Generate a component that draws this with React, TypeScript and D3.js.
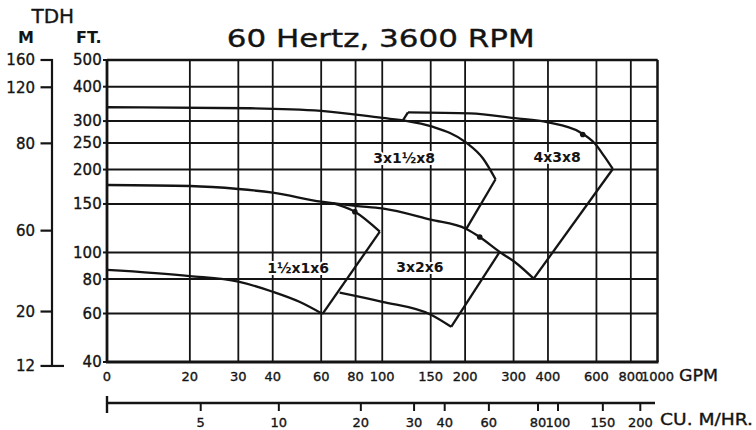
import React from "react";
import * as d3 from "d3";

// ---- Axis data ----
const gpmTicks = [10, 20, 30, 40, 60, 80, 100, 150, 200, 300, 400, 600, 800, 1000];
const gpmTickLabels = ["0", "20", "30", "40", "60", "80", "100", "150", "200", "300", "400", "600", "800", "1000"];
const ftTicks = [500, 400, 300, 250, 200, 150, 100, 80, 60, 40];
// metre scale as printed on the original (positions expressed as the ft level they sit at)
const mTickLabels = ["160", "120", "80", "60", "20", "12"];
const mTickFt = [500, 398, 249, 120, 61, 38.7];
// cubic metres per hour scale (positions expressed as the GPM they sit at)
const cuTickLabels = ["5", "10", "20", "30", "40", "60", "80", "100", "150", "200"];
const cuTickGpm = [21.9, 42.1, 83.6, 130.5, 168.6, 244, 368, 435, 633, 866];

// ---- Pump curve data: [GPM, ft] ----
const sharedCurve: [number, number][] = [
  [10, 175.8], [20, 174.3], [30, 170], [40, 164.8], [60, 153], [66, 151], [80, 147.5],
  [100, 144.5], [150, 131.5], [202, 121.7], [226, 113.8], [267, 100.4], [303, 92.3], [355, 80.3],
];
const branch1x6: [number, number][] = [[66, 151], [79.5, 140.6], [98, 119]];
const lower1x6: [number, number][] = [[10, 86.4], [20, 82.1], [30, 78.3], [40, 72], [50, 66.2], [60.7, 59.8]];
const end1x6: [number, number][] = [[98, 119], [60.7, 59.8]];
const lower2x6: [number, number][] = [[70, 71.5], [100, 66.2], [151, 59.3], [178, 53.7]];
const end2x6: [number, number][] = [[178, 53.7], [267, 100.4]];
const upper3x8: [number, number][] = [
  [10, 336.8], [33, 334], [60, 327], [100, 308], [122, 300.8], [151, 287], [202, 250.4], [232, 219.8], [258, 184.4],
];
const end3x8: [number, number][] = [[258, 184.4], [202, 121.7]];
const step4x8: [number, number][] = [[119, 302.5], [124, 322.8]];
const upper4x8: [number, number][] = [
  [124, 322.8], [208, 320], [303, 307.5], [400, 297], [521, 274], [591, 249.2], [642, 222.8], [688, 201],
];
const end4x8: [number, number][] = [[688, 201], [355, 80.3]];
const dots: [number, number][] = [[79.5, 140.6], [226, 113.8], [535, 268]];

const pumpLabels = ["3x1½x8", "4x3x8", "1½x1x6", "3x2x6"];
const pumpLabelGpm = [120, 432, 49.5, 137];
const pumpLabelFt = [211, 213.6, 84, 85];

const FONT = "'DejaVu Sans', 'Liberation Sans', Arial, sans-serif";
const INK = "#141414";

export default function App() {
  const x = d3.scaleLog().domain([10, 1000]).range([107, 657.5]);
  const y = d3.scaleLog().domain([40, 500]).range([362, 60]);

  const smooth = d3
    .line<[number, number]>()
    .x((d) => x(d[0]))
    .y((d) => y(d[1]))
    .curve(d3.curveMonotoneX);
  const straight = d3
    .line<[number, number]>()
    .x((d) => x(d[0]))
    .y((d) => y(d[1]));

  const curves = [sharedCurve, branch1x6, lower1x6, lower2x6, upper3x8, upper4x8];
  const segments = [end1x6, end2x6, end3x8, step4x8, end4x8];

  const left = x(10);
  const right = x(1000);
  const top = y(500);
  const bottom = y(40);
  const mAxisX = 52;
  const cuY = 403;
  const heavy = { stroke: INK, strokeWidth: 0.35 };

  return (
    <svg
      width={756}
      height={430}
      style={{ position: "absolute", left: 0, top: 0, background: "#fff" }}
      fontFamily={FONT}
    >
      <rect x={0} y={0} width={756} height={430} fill="#fff" />

      {/* Title */}
      <text x={226.7} y={46.7} fontSize={25} fill={INK} textLength={308} lengthAdjust="spacingAndGlyphs" {...heavy}>
        60 Hertz, 3600 RPM
      </text>
      <text x={31.5} y={23.3} fontSize={20} fill={INK} {...heavy}>TDH</text>
      <text x={18} y={43.3} fontSize={16} fontWeight="bold" fill={INK}>M</text>
      <text x={76} y={43.3} fontSize={16} fontWeight="bold" fill={INK}>FT.</text>

      {/* Horizontal grid */}
      {ftTicks.map((t) => (
        <line key={"h" + t} x1={left} x2={right} y1={y(t)} y2={y(t)} stroke={INK} strokeWidth={2} />
      ))}
      {/* Vertical grid */}
      {gpmTicks.map((t) => (
        <line key={"v" + t} x1={x(t)} x2={x(t)} y1={top} y2={bottom} stroke={INK} strokeWidth={1.8} />
      ))}
      {/* Frame: left and bottom heavier */}
      <line x1={left} x2={left} y1={top - 1} y2={bottom + 1} stroke={INK} strokeWidth={2.8} />
      <line x1={left - 1} x2={right + 1} y1={bottom} y2={bottom} stroke={INK} strokeWidth={2.8} />
      <line x1={left} x2={right} y1={top} y2={top} stroke={INK} strokeWidth={2.4} />
      <line x1={right} x2={right} y1={top} y2={bottom} stroke={INK} strokeWidth={2.2} />

      {/* FT axis labels */}
      {ftTicks.map((t) => (
        <g key={"fl" + t}>
          <line x1={left - 4} x2={left} y1={y(t)} y2={y(t)} stroke={INK} strokeWidth={2} />
          <text x={101.7} y={y(t)} dy="0.36em" textAnchor="end" fontSize={15} fill={INK} {...heavy}>
            {t}
          </text>
        </g>
      ))}

      {/* M axis */}
      <line x1={mAxisX} x2={mAxisX} y1={y(mTickFt[0]) - 1} y2={y(mTickFt[mTickFt.length - 1])} stroke={INK} strokeWidth={2.2} />
      {mTickLabels.map((lab, i) => {
        const yy = y(mTickFt[i]);
        const last = i === mTickLabels.length - 1;
        return (
          <g key={"m" + lab}>
            <line x1={40.5} x2={last ? 64 : mAxisX + 1} y1={yy} y2={yy} stroke={INK} strokeWidth={2.2} />
            <text x={35} y={yy} dy="0.36em" textAnchor="end" fontSize={15} fill={INK} {...heavy}>
              {lab}
            </text>
          </g>
        );
      })}

      {/* GPM axis labels */}
      {gpmTicks.map((t, i) => (
        <text key={"gl" + t} x={x(t)} y={381} textAnchor="middle" fontSize={13} fill={INK} {...heavy}>
          {gpmTickLabels[i]}
        </text>
      ))}
      <text x={679} y={381} fontSize={16} fill={INK} textLength={39} lengthAdjust="spacingAndGlyphs" {...heavy}>GPM</text>

      {/* Cubic metres per hour axis */}
      <line x1={left} x2={655} y1={cuY} y2={cuY} stroke={INK} strokeWidth={2.6} />
      <line x1={left} x2={left} y1={396} y2={413} stroke={INK} strokeWidth={2.4} />
      {cuTickGpm.map((g, i) => (
        <g key={"cu" + i}>
          <line x1={x(g)} x2={x(g)} y1={cuY} y2={cuY + 8} stroke={INK} strokeWidth={2} />
          <text x={x(g)} y={427} textAnchor="middle" fontSize={13} fill={INK} {...heavy}>
            {cuTickLabels[i]}
          </text>
        </g>
      ))}
      <text x={660} y={425} fontSize={16} fill={INK} textLength={93} lengthAdjust="spacingAndGlyphs" {...heavy}>CU. M/HR.</text>

      {/* Pump curves */}
      {curves.map((c, i) => (
        <path key={"c" + i} d={smooth(c) || ""} fill="none" stroke={INK} strokeWidth={2.3} strokeLinejoin="round" />
      ))}
      {segments.map((s, i) => (
        <path key={"s" + i} d={straight(s) || ""} fill="none" stroke={INK} strokeWidth={2.3} strokeLinejoin="round" />
      ))}
      {dots.map((d, i) => (
        <circle key={"d" + i} cx={x(d[0])} cy={y(d[1])} r={2.8} fill={INK} />
      ))}

      {/* Pump labels with white halo over grid */}
      {pumpLabels.map((lab, i) => (
        <text
          key={"pl" + lab}
          x={x(pumpLabelGpm[i])}
          y={y(pumpLabelFt[i])}
          textAnchor="middle"
          fontSize={14}
          fontWeight="bold"
          fill={INK}
          stroke="#fff"
          strokeWidth={4}
          paintOrder="stroke"
        >
          {lab}
        </text>
      ))}
    </svg>
  );
}
